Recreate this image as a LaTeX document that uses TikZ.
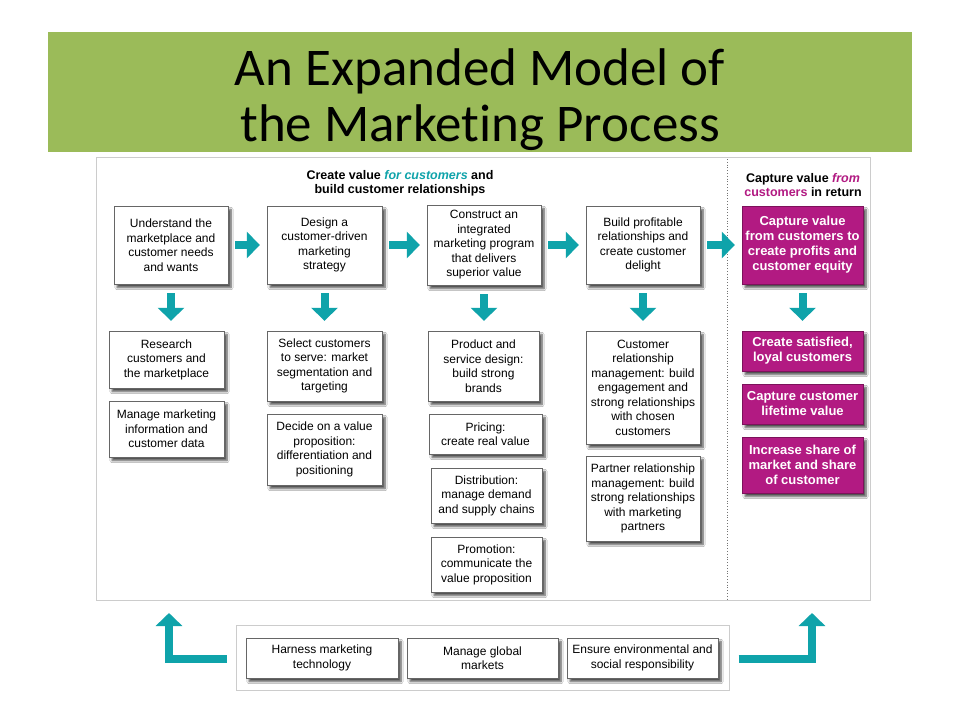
\documentclass[tikz,border=0pt]{standalone}
\usepackage{fontspec}
\setmainfont{Liberation Sans}
\newfontfamily\titlefont[Ligatures=CommonOff]{Carlito}
\usetikzlibrary{arrows.meta, positioning, shadows, shadows.blur}

\definecolor{titlegreen}{HTML}{9BBB59}
\definecolor{flowteal}{HTML}{0FA3AA}
\definecolor{capmagenta}{HTML}{B21A82}

\tikzset{
  box/.style={draw=black!60, fill=white, align=center, inner sep=1pt,
    font=\fontsize{12}{14.5}\selectfont,
    blur shadow={shadow xshift=3pt, shadow yshift=-3.5pt, shadow blur steps=6, shadow opacity=70}},
  magbox/.style={box, draw=capmagenta!70!black, fill=capmagenta, text=white,
    font=\bfseries\fontsize{13}{15}\selectfont},
  wh/.style 2 args={minimum width=#1pt, minimum height=#2pt},
  flow/.style={line width=8pt, draw=flowteal, line join=miter,
    -{Triangle[width=26pt,length=13pt]}, shorten <=7pt, shorten >=7pt},
  head/.style={align=center, font=\bfseries\fontsize{12.5}{14}\selectfont}
}

\begin{document}
\begin{tikzpicture}[x=1pt,y=-1pt]
\useasboundingbox (0,0) rectangle (960,720);
\fill[white] (0,0) rectangle (960,720);
% Title band
\fill[titlegreen] (48,32) rectangle (912,152);
\node[font=\titlefont\fontsize{53}{56}\selectfont, anchor=base] (title1) at (480,85) {An Expanded Model of};
\node[font=\titlefont\fontsize{53}{56}\selectfont, anchor=base] (title2) at (480,141) {the Marketing Process};

% Panel and divider
\draw[black!20, line width=1pt, fill=white] (96,157) rectangle (870,600);
\draw[black!55, dotted, line width=0.8pt] (727,159) -- (727,600);

\node[head] (createhead) at (400,183) {Create value \textcolor{flowteal}{\textit{for customers}} and\\build customer relationships};
\node[head] (capturehead) at (803,185) {Capture value \textcolor{capmagenta}{\textit{from}}\\\textcolor{capmagenta}{customers} in return};

% Top row
\node[box, wh={114}{78}] (understand) at (171,245) {Understand the\\marketplace and\\customer needs\\and wants};
\node[box, wh={115}{78}] (design) at (324.5,245) {Design a\\customer-driven\\marketing\\strategy};
\node[box, wh={114}{80}] (construct) at (484,245) {Construct an\\integrated\\marketing program\\that delivers\\superior value};
\node[box, wh={114}{78}] (build) at (643,245) {Build profitable\\relationships and\\create customer\\delight};
\node[magbox, wh={121}{78}] (capture) at (802.5,245) {Capture value\\from customers to\\create profits and\\customer equity};

% Second row
\node[box, wh={115}{57}] (research) at (166.5,359.5) {Research\\customers and\\the marketplace};
\node[box, wh={115}{56}] (manageinfo) at (166.5,429) {Manage marketing\\information and\\customer data};
\node[box, wh={115}{70}] (select) at (324.5,366) {Select customers\\to serve: market\\segmentation and\\targeting};
\node[box, wh={115}{71}] (decide) at (324.5,449.5) {Decide on a value\\proposition:\\differentiation and\\positioning};
\node[box, wh={111}{70}] (product) at (483.5,366) {Product and\\service design:\\build strong\\brands};
\node[box, wh={113}{40}] (pricing) at (485.5,434) {Pricing:\\create real value};
\node[box, wh={111}{55}] (distribution) at (486.5,495.5) {Distribution:\\manage demand\\and supply chains};
\node[box, wh={111}{55}] (promotion) at (486.5,564.5) {Promotion:\\communicate the\\value proposition};
\node[box, wh={114}{113}] (crm) at (643,387.5) {Customer\\relationship\\management: build\\engagement and\\strong relationships\\with chosen\\customers};
\node[box, wh={114}{85}] (prm) at (643,498.5) {Partner relationship\\management: build\\strong relationships\\with marketing\\partners};
\node[magbox, wh={121}{40}] (loyal) at (802.5,351) {Create satisfied,\\loyal customers};
\node[magbox, wh={121}{40}] (lifetime) at (802.5,404) {Capture customer\\lifetime value};
\node[magbox, wh={121}{56}] (share) at (802.5,465) {Increase share of\\market and share\\of customer};

% Bottom strip
\node[draw=black!20, line width=1pt, fill=white, wh={493}{65}] (tools) at (482.5,657.5) {};
\node[box, wh={152}{40}] (technology) at (322,658) {Harness marketing\\technology};
\node[box, wh={151}{40}] (global) at (482.5,658) {Manage global\\markets};
\node[box, wh={151}{40}] (ethics) at (642.5,658) {Ensure environmental and\\social responsibility};

% Flow arrows
\draw[flow] (understand) -- (design);
\draw[flow] (design) -- (construct);
\draw[flow] (construct) -- (build);
\draw[flow] (build) -- (capture);
\draw[flow, shorten <=9pt, shorten >=10pt] (understand.south) -- (understand.south |- research.north);
\draw[flow, shorten <=9pt, shorten >=10pt] (design.south) -- (design.south |- select.north);
\draw[flow, shorten <=9pt, shorten >=10pt] (construct.south) -- (construct.south |- product.north);
\draw[flow, shorten <=9pt, shorten >=10pt] (build.south) -- (build.south |- crm.north);
\draw[flow, shorten <=9pt, shorten >=10pt] (capture.south) -- (capture.south |- loyal.north);

\coordinate (backup) at (169,613);
\coordinate (fwdup) at (812,613);
\draw[flow, shorten <=9pt, shorten >=0pt] ([yshift=-1.5pt]tools.west) -| (backup);
\draw[flow, shorten <=9pt, shorten >=0pt] ([yshift=-1.5pt]tools.east) -| (fwdup);
\end{tikzpicture}
\end{document}
